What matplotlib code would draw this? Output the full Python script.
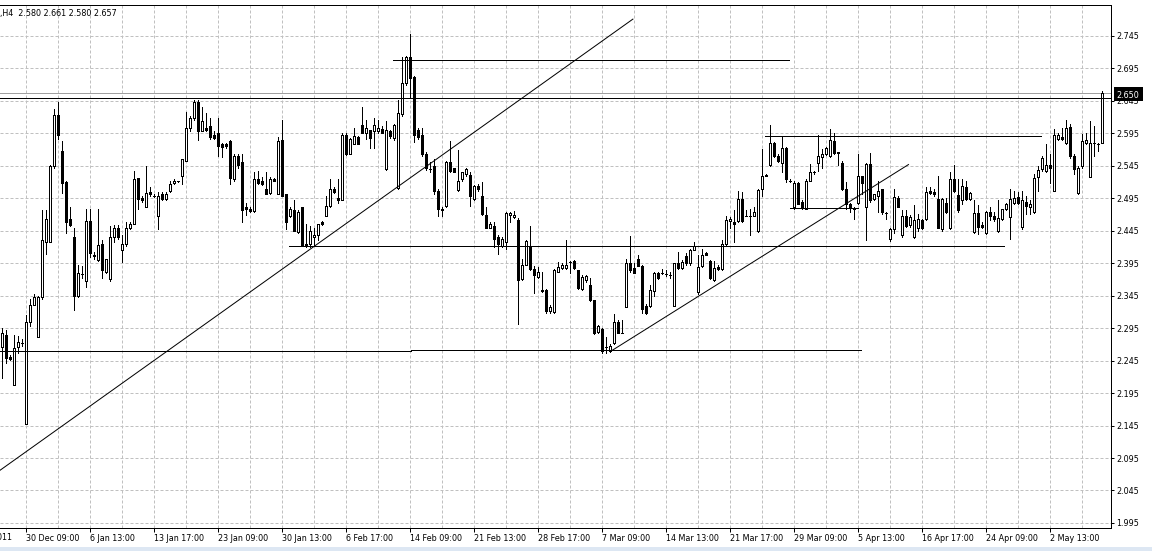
import matplotlib.pyplot as plt
import numpy as np
from matplotlib.patches import Rectangle

# H4 candles (index 0 = leftmost candle)
opens = [
    2.266, 2.285, 2.251, 2.207, 2.266, 2.272, 2.148, 2.305, 2.331, 2.282,
    2.343, 2.428, 2.428, 2.544, 2.623, 2.568, 2.520, 2.463, 2.435, 2.345,
    2.378, 2.368, 2.460, 2.408, 2.400, 2.424, 2.382, 2.370, 2.435, 2.450,
    2.416, 2.424, 2.449, 2.455, 2.526, 2.495, 2.482, 2.504, 2.499, 2.468,
    2.502, 2.494, 2.506, 2.518, 2.521, 2.530, 2.552, 2.603, 2.619, 2.643,
    2.599, 2.603, 2.606, 2.592, 2.596, 2.578, 2.579, 2.584, 2.525, 2.560,
    2.551, 2.481, 2.478, 2.475, 2.525, 2.522, 2.510, 2.503, 2.524, 2.501,
    2.585, 2.501, 2.467, 2.477, 2.443, 2.481, 2.425, 2.424, 2.435, 2.439,
    2.458, 2.467, 2.483, 2.509, 2.495, 2.493, 2.592, 2.564, 2.579, 2.590,
    2.608, 2.596, 2.600, 2.598, 2.598, 2.601, 2.540, 2.599, 2.588, 2.511,
    2.625, 2.673, 2.713, 2.682, 2.600, 2.592, 2.564, 2.540, 2.544, 2.506,
    2.478, 2.483, 2.551, 2.541, 2.508, 2.525, 2.533, 2.531, 2.494, 2.514,
    2.499, 2.470, 2.450, 2.452, 2.436, 2.422, 2.427, 2.470, 2.466, 2.461,
    2.370, 2.393, 2.422, 2.386, 2.374, 2.354, 2.354, 2.322, 2.320, 2.382,
    2.388, 2.388, 2.397, 2.398, 2.384, 2.355, 2.369, 2.361, 2.338, 2.289,
    2.294, 2.266, 2.260, 2.272, 2.305, 2.288, 2.328, 2.396, 2.388, 2.402,
    2.391, 2.329, 2.329, 2.352, 2.380, 2.380, 2.379, 2.377, 2.329, 2.395,
    2.388, 2.406, 2.395, 2.416, 2.350, 2.390, 2.411, 2.399, 2.369, 2.389,
    2.386, 2.424, 2.460, 2.459, 2.460, 2.494, 2.468, 2.468, 2.468, 2.444,
    2.509, 2.531, 2.546, 2.580, 2.560, 2.549, 2.573, 2.522, 2.481, 2.519,
    2.490, 2.479, 2.522, 2.535, 2.549, 2.558, 2.563, 2.560, 2.584, 2.566,
    2.549, 2.510, 2.486, 2.479, 2.488, 2.529, 2.481, 2.548, 2.494, 2.498,
    2.509, 2.472, 2.432, 2.447, 2.495, 2.438, 2.468, 2.454, 2.436, 2.449,
    2.461, 2.463, 2.506, 2.505, 2.494, 2.447, 2.488, 2.449, 2.524, 2.500,
    2.492, 2.512, 2.494, 2.443, 2.472, 2.454, 2.442, 2.474, 2.468, 2.444,
    2.463, 2.478, 2.466, 2.488, 2.497, 2.451, 2.490, 2.482, 2.474, 2.528,
    2.540, 2.537, 2.547, 2.506, 2.587, 2.590, 2.580, 2.605, 2.560, 2.503,
    2.544, 2.580, 2.528, 2.580, 2.579, 2.580,
]
highs = [
    2.295, 2.292, 2.253, 2.285, 2.283, 2.278, 2.315, 2.340, 2.347, 2.345,
    2.477, 2.477, 2.546, 2.633, 2.644, 2.584, 2.521, 2.481, 2.450, 2.392,
    2.390, 2.478, 2.478, 2.412, 2.478, 2.431, 2.402, 2.452, 2.454, 2.454,
    2.439, 2.459, 2.459, 2.537, 2.526, 2.498, 2.544, 2.512, 2.502, 2.505,
    2.505, 2.505, 2.522, 2.524, 2.522, 2.556, 2.628, 2.622, 2.646, 2.646,
    2.635, 2.627, 2.619, 2.598, 2.619, 2.580, 2.580, 2.585, 2.563, 2.563,
    2.564, 2.488, 2.482, 2.535, 2.537, 2.528, 2.535, 2.528, 2.526, 2.590,
    2.616, 2.502, 2.481, 2.492, 2.477, 2.481, 2.455, 2.452, 2.450, 2.456,
    2.460, 2.498, 2.525, 2.512, 2.524, 2.595, 2.595, 2.588, 2.603, 2.591,
    2.635, 2.616, 2.600, 2.618, 2.615, 2.606, 2.614, 2.600, 2.609, 2.646,
    2.713, 2.714, 2.748, 2.683, 2.603, 2.603, 2.567, 2.551, 2.555, 2.509,
    2.482, 2.553, 2.584, 2.542, 2.569, 2.536, 2.542, 2.535, 2.515, 2.517,
    2.520, 2.481, 2.458, 2.459, 2.438, 2.436, 2.474, 2.474, 2.475, 2.465,
    2.401, 2.431, 2.452, 2.390, 2.389, 2.381, 2.355, 2.330, 2.386, 2.397,
    2.396, 2.431, 2.399, 2.400, 2.385, 2.377, 2.377, 2.372, 2.339, 2.300,
    2.295, 2.281, 2.270, 2.317, 2.307, 2.307, 2.401, 2.437, 2.395, 2.407,
    2.393, 2.332, 2.362, 2.381, 2.381, 2.386, 2.384, 2.381, 2.396, 2.413,
    2.400, 2.411, 2.417, 2.427, 2.407, 2.417, 2.412, 2.400, 2.399, 2.392,
    2.431, 2.468, 2.466, 2.477, 2.506, 2.505, 2.477, 2.479, 2.482, 2.510,
    2.571, 2.532, 2.608, 2.581, 2.563, 2.590, 2.574, 2.524, 2.521, 2.520,
    2.493, 2.524, 2.548, 2.537, 2.592, 2.571, 2.574, 2.601, 2.595, 2.567,
    2.552, 2.520, 2.488, 2.482, 2.564, 2.530, 2.549, 2.565, 2.502, 2.522,
    2.510, 2.474, 2.449, 2.509, 2.498, 2.477, 2.477, 2.470, 2.485, 2.471,
    2.463, 2.512, 2.512, 2.509, 2.530, 2.495, 2.495, 2.536, 2.546, 2.525,
    2.525, 2.521, 2.505, 2.492, 2.485, 2.458, 2.475, 2.481, 2.474, 2.492,
    2.479, 2.488, 2.509, 2.506, 2.505, 2.506, 2.498, 2.493, 2.533, 2.544,
    2.560, 2.578, 2.564, 2.601, 2.596, 2.603, 2.616, 2.610, 2.563, 2.544,
    2.594, 2.595, 2.614, 2.606, 2.580, 2.661,
]
lows = [
    2.218, 2.241, 2.246, 2.207, 2.256, 2.267, 2.148, 2.298, 2.330, 2.281,
    2.340, 2.409, 2.428, 2.542, 2.587, 2.503, 2.442, 2.452, 2.323, 2.343,
    2.372, 2.359, 2.404, 2.401, 2.399, 2.372, 2.380, 2.368, 2.428, 2.433,
    2.397, 2.422, 2.447, 2.455, 2.478, 2.490, 2.481, 2.498, 2.497, 2.447,
    2.492, 2.493, 2.505, 2.517, 2.520, 2.517, 2.552, 2.599, 2.616, 2.585,
    2.599, 2.599, 2.587, 2.587, 2.560, 2.558, 2.573, 2.517, 2.522, 2.542,
    2.458, 2.470, 2.474, 2.474, 2.517, 2.515, 2.501, 2.501, 2.521, 2.501,
    2.499, 2.447, 2.466, 2.444, 2.442, 2.422, 2.420, 2.420, 2.423, 2.431,
    2.454, 2.467, 2.482, 2.503, 2.488, 2.492, 2.562, 2.563, 2.578, 2.578,
    2.595, 2.587, 2.573, 2.573, 2.596, 2.596, 2.538, 2.588, 2.585, 2.509,
    2.622, 2.670, 2.649, 2.581, 2.587, 2.560, 2.538, 2.535, 2.502, 2.467,
    2.468, 2.482, 2.536, 2.535, 2.506, 2.522, 2.530, 2.483, 2.493, 2.506,
    2.470, 2.449, 2.449, 2.420, 2.409, 2.420, 2.417, 2.458, 2.465, 2.302,
    2.369, 2.392, 2.385, 2.349, 2.373, 2.350, 2.319, 2.319, 2.318, 2.381,
    2.386, 2.386, 2.380, 2.386, 2.355, 2.354, 2.366, 2.337, 2.286, 2.288,
    2.256, 2.256, 2.259, 2.270, 2.287, 2.287, 2.328, 2.382, 2.380, 2.390,
    2.318, 2.317, 2.327, 2.345, 2.370, 2.379, 2.375, 2.373, 2.329, 2.386,
    2.386, 2.393, 2.393, 2.415, 2.347, 2.389, 2.407, 2.370, 2.368, 2.385,
    2.384, 2.423, 2.449, 2.428, 2.459, 2.459, 2.467, 2.439, 2.467, 2.443,
    2.498, 2.529, 2.545, 2.558, 2.551, 2.536, 2.520, 2.520, 2.479, 2.486,
    2.479, 2.478, 2.521, 2.533, 2.537, 2.542, 2.562, 2.558, 2.564, 2.546,
    2.508, 2.478, 2.474, 2.463, 2.487, 2.501, 2.431, 2.490, 2.493, 2.474,
    2.471, 2.463, 2.429, 2.442, 2.481, 2.436, 2.451, 2.451, 2.434, 2.445,
    2.447, 2.461, 2.502, 2.499, 2.449, 2.445, 2.472, 2.447, 2.505, 2.474,
    2.487, 2.493, 2.493, 2.442, 2.440, 2.449, 2.440, 2.461, 2.460, 2.443,
    2.461, 2.477, 2.432, 2.487, 2.487, 2.447, 2.471, 2.471, 2.472, 2.506,
    2.537, 2.536, 2.519, 2.506, 2.585, 2.585, 2.579, 2.557, 2.533, 2.501,
    2.542, 2.579, 2.528, 2.560, 2.568, 2.580,
]
closes = [
    2.287, 2.249, 2.247, 2.264, 2.273, 2.272, 2.305, 2.331, 2.343, 2.343,
    2.431, 2.463, 2.544, 2.623, 2.592, 2.518, 2.459, 2.454, 2.345, 2.380,
    2.378, 2.460, 2.411, 2.406, 2.423, 2.384, 2.401, 2.435, 2.449, 2.436,
    2.425, 2.449, 2.455, 2.525, 2.494, 2.492, 2.503, 2.501, 2.499, 2.499,
    2.494, 2.501, 2.517, 2.522, 2.521, 2.555, 2.603, 2.619, 2.643, 2.598,
    2.614, 2.600, 2.590, 2.588, 2.576, 2.574, 2.576, 2.526, 2.560, 2.546,
    2.477, 2.478, 2.475, 2.524, 2.519, 2.517, 2.502, 2.524, 2.522, 2.584,
    2.499, 2.458, 2.479, 2.444, 2.474, 2.422, 2.422, 2.444, 2.438, 2.455,
    2.455, 2.483, 2.509, 2.505, 2.492, 2.592, 2.563, 2.587, 2.591, 2.579,
    2.596, 2.603, 2.588, 2.608, 2.603, 2.596, 2.600, 2.591, 2.608, 2.627,
    2.673, 2.713, 2.680, 2.592, 2.590, 2.563, 2.541, 2.540, 2.506, 2.478,
    2.477, 2.551, 2.537, 2.536, 2.522, 2.535, 2.540, 2.498, 2.514, 2.509,
    2.471, 2.450, 2.455, 2.432, 2.424, 2.433, 2.472, 2.472, 2.470, 2.369,
    2.393, 2.429, 2.386, 2.377, 2.381, 2.352, 2.322, 2.327, 2.385, 2.389,
    2.392, 2.393, 2.397, 2.388, 2.357, 2.374, 2.375, 2.338, 2.288, 2.298,
    2.260, 2.266, 2.268, 2.305, 2.288, 2.288, 2.395, 2.385, 2.380, 2.390,
    2.324, 2.318, 2.354, 2.380, 2.372, 2.380, 2.379, 2.377, 2.395, 2.388,
    2.397, 2.395, 2.416, 2.422, 2.389, 2.408, 2.408, 2.373, 2.388, 2.386,
    2.424, 2.461, 2.463, 2.456, 2.494, 2.460, 2.468, 2.468, 2.474, 2.508,
    2.529, 2.529, 2.580, 2.560, 2.552, 2.573, 2.525, 2.522, 2.519, 2.487,
    2.481, 2.522, 2.535, 2.535, 2.560, 2.563, 2.573, 2.585, 2.565, 2.565,
    2.509, 2.486, 2.481, 2.479, 2.529, 2.519, 2.548, 2.492, 2.501, 2.506,
    2.474, 2.472, 2.447, 2.497, 2.482, 2.468, 2.452, 2.466, 2.461, 2.463,
    2.449, 2.505, 2.503, 2.501, 2.449, 2.494, 2.474, 2.524, 2.506, 2.477,
    2.514, 2.494, 2.503, 2.472, 2.451, 2.451, 2.474, 2.468, 2.463, 2.465,
    2.478, 2.487, 2.494, 2.495, 2.488, 2.492, 2.483, 2.487, 2.526, 2.538,
    2.557, 2.546, 2.542, 2.592, 2.592, 2.587, 2.603, 2.560, 2.540, 2.542,
    2.584, 2.585, 2.580, 2.580, 2.579, 2.657,
]

# date labels every 16 candles, starting at candle 6
date_labels = ['30 Dec 09:00', '6 Jan 13:00', '13 Jan 17:00', '23 Jan 09:00',
               '30 Jan 13:00', '6 Feb 17:00', '14 Feb 09:00', '21 Feb 13:00',
               '28 Feb 17:00', '7 Mar 09:00', '14 Mar 13:00', '21 Mar 17:00',
               '29 Mar 09:00', '5 Apr 13:00', '16 Apr 17:00', '24 Apr 09:00',
               '2 May 13:00']
price_ticks = [round(1.995 + 0.05 * i, 3) for i in range(16)]

# drawn objects: horizontal levels (start candle, end candle, price)
levels = [(-0.4, 102.4, 2.260), (102.4, 214.8, 2.2615), (71.9, 250.7, 2.422),
          (97.8, 196.9, 2.708), (190.9, 259.8, 2.591), (197.0, 214.0, 2.480)]
# trend lines ((candle, price), (candle, price))
trends = [((-0.4, 2.076), (157.85, 2.771)),
          ((152.2, 2.259), (226.75, 2.547))]
level_full = 2.649
bid = 2.657

opens = np.array(opens)
highs = np.array(highs)
lows = np.array(lows)
closes = np.array(closes)
idx = np.arange(len(opens))

W, H = 1152, 551
fig = plt.figure(figsize=(W / 100, H / 100), dpi=100)
plt.rcParams['font.family'] = ['DejaVu Sans']
top_px, bot_px, right_px = 4.5, 527.7, 1110.5
ax = fig.add_axes([0, 1 - bot_px / H, right_px / W, (bot_px - top_px) / H])
ax.set_xlim(-0.375, 277.25)
ax.set_ylim(1.9877, 2.7935)

lw = 0.72  # one pixel
grid_kw = dict(color='#c0c0c0', lw=lw, linestyle=(0, (3, 2)), zorder=0)
for p in price_ticks:
    ax.axhline(p, **grid_kw)
for k in range(6, 276, 8):
    ax.axvline(k, **grid_kw)

# candles
ax.vlines(idx, lows, highs, color='black', lw=lw, zorder=2, antialiased=False)
up = closes >= opens
ax.bar(idx[up], (closes - opens)[up], bottom=opens[up], width=0.5,
       facecolor='white', edgecolor='black', lw=lw, zorder=3, antialiased=False)
ax.bar(idx[~up], (opens - closes)[~up], bottom=closes[~up], width=0.5,
       facecolor='black', edgecolor='black', lw=lw, zorder=3, antialiased=False)

# objects
ax.axhline(bid, color='#a0a0a0', lw=lw, zorder=1)
ax.axhline(level_full, color='black', lw=lw, zorder=4)
for x0, x1, p in levels:
    ax.plot([x0, x1], [p, p], color='black', lw=lw, zorder=4)
for (x0, p0), (x1, p1) in trends:
    ax.plot([x0, x1], [p0, p1], color='black', lw=lw, zorder=4)

# axes styling
for side in ['top', 'right', 'bottom']:
    ax.spines[side].set_linewidth(lw)
    ax.spines[side].set_color('black')
ax.spines['left'].set_visible(False)

ax.yaxis.tick_right()
ax.set_yticks(price_ticks)
ax.set_yticklabels(['%.3f' % p for p in price_ticks])
ax.tick_params(axis='y', direction='out', length=2.2, width=lw, pad=1.8,
               labelsize=5.8, colors='black')
ax.set_xticks([6 + 16 * i for i in range(len(date_labels))])
ax.set_xticklabels(date_labels, ha='left')
ax.tick_params(axis='x', direction='out', length=2.9, width=lw, pad=1.6,
               labelsize=5.8, colors='black')

# header and partial first date
fig.text(0.5 / W, 1 - 13.3 / H, ',H4  2.580 2.661 2.580 2.657',
         fontsize=5.8, va='center', ha='left')
fig.text(11.7 / W, 1 - 537 / H, '27 Dec 2011', fontsize=5.8,
         va='center', ha='right')

# price label box
fig.patches.append(Rectangle((1114 / W, 1 - 101 / H), 29 / W, 14 / H,
                             transform=fig.transFigure, facecolor='black',
                             edgecolor='none'))
fig.text(1116.7 / W, 1 - 95.5 / H, '2.650', color='white', fontsize=5.8,
         va='center', ha='left')

# window border strip at the bottom
fig.patches.append(Rectangle((0, 0), 1, 4.5 / H, transform=fig.transFigure,
                             facecolor='#dde7f3', edgecolor='none'))

fig.savefig('out.png', dpi=100)
